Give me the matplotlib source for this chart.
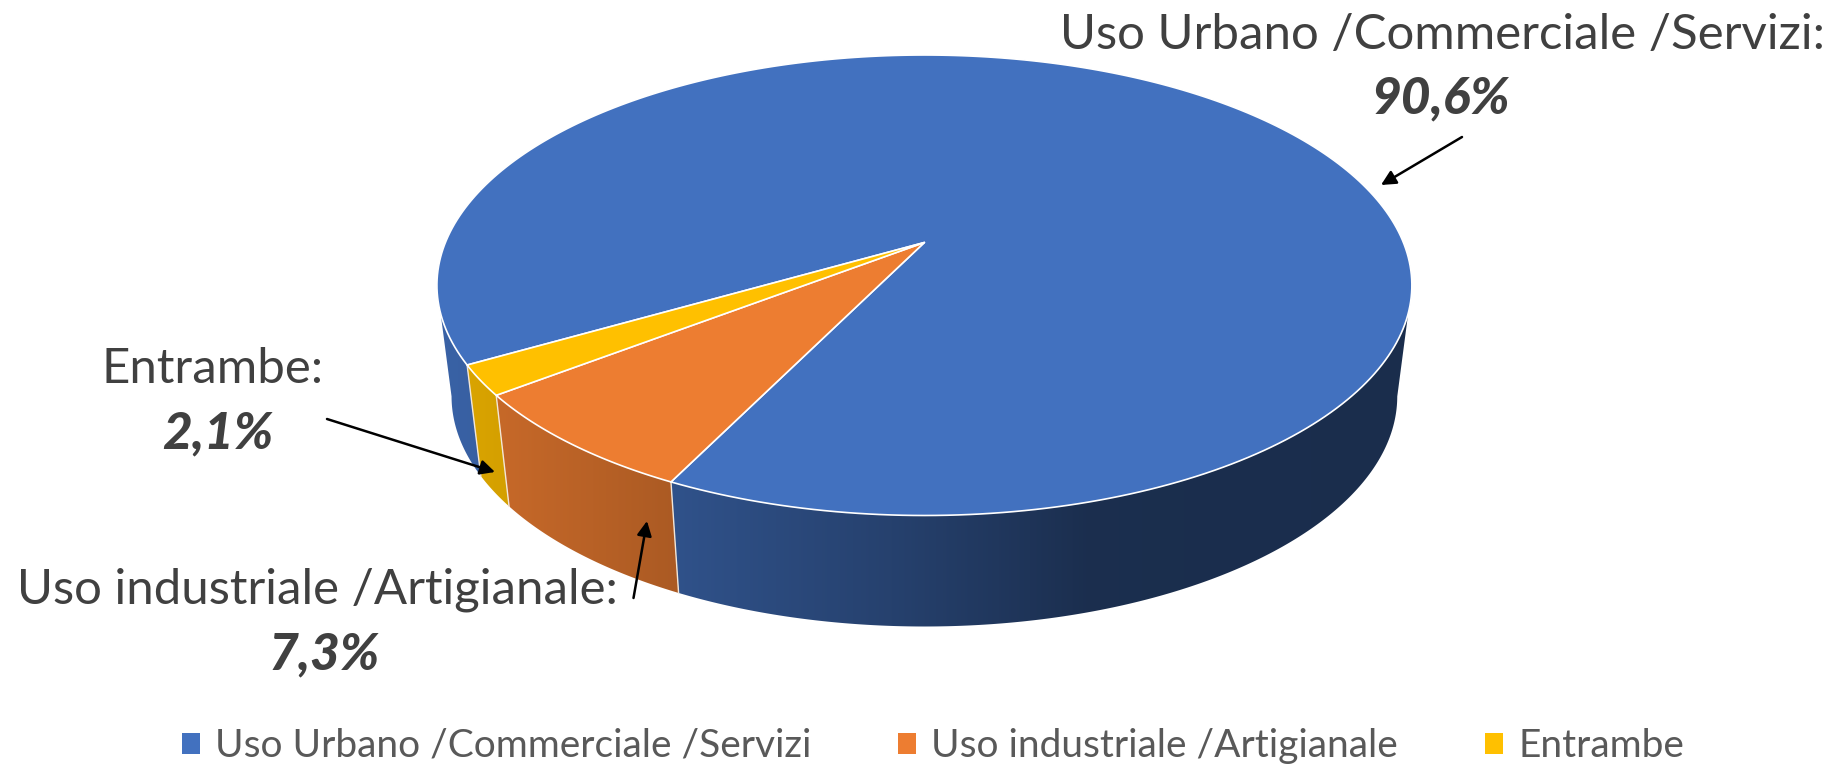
import numpy as np
import matplotlib
matplotlib.use("Agg")
import matplotlib.pyplot as plt
from matplotlib.patches import Patch, Polygon

plt.rcParams['font.family'] = ['Lato', 'DejaVu Sans']

# data
labels = ["Uso Urbano /Commerciale /Servizi", "Uso industriale /Artigianale", "Entrambe"]
values = [90.6, 7.3, 2.1]
value_labels = ["90,6%", "7,3%", "2,1%"]
colors = ["#4271BF", "#ED7D31", "#FFC000"]

# perspective of the disc, in pixels
START_ANGLE = 60.0
APEX_X, APEX_Y = 924.4, 242.5
RX, RY = 479.0, 222.3
PERSP = -0.1857
DEPTH = 111.0
BOTTOM_SCALE = 0.97

# shading of the side wall against x
SHADE_X = [437, 510, 680, 900, 1090, 1412]
SHADE_F = [0.87, 0.83, 0.72, 0.57, 0.41, 0.40]


def rim(theta):
    t = np.radians(theta)
    x, y = -np.sin(t), np.cos(t)
    w = 1 + PERSP * y
    return APEX_X + RX * x / w, APEX_Y + RY * y / w


def rim_bottom(theta):
    x, y = rim(theta)
    return APEX_X + (x - APEX_X) * BOTTOM_SCALE, y + DEPTH


fig = plt.figure(figsize=(18.37, 7.69), dpi=100)
ax = fig.add_axes([0, 0, 1, 1])

# angles of the slices
spans = np.array(values) / sum(values) * 360
starts = START_ANGLE + np.concatenate([[0], np.cumsum(spans)[:-1]])
ends = starts + spans

# side wall: a horizontal gradient clipped to the part of each slice that faces the viewer
grad_x = np.arange(0, 1837)
shade = np.interp(grad_x + 0.5, SHADE_X, SHADE_F)
for a0, a1, col in zip(starts, ends, colors):
    base = np.array(matplotlib.colors.to_rgb(col))
    th = np.linspace(a0, a1, 1440)
    front = np.gradient(rim(th)[0]) < 0
    for run in np.split(th, np.flatnonzero(np.diff(front)) + 1):
        if np.gradient(rim(run)[0]).mean() >= 0:
            continue
        x0, y0 = rim(run)
        x1, y1 = rim_bottom(run[::-1])
        wall = Polygon(np.c_[np.r_[x0, x1], np.r_[y0, y1]], closed=True, transform=ax.transData,
                       facecolor="none", edgecolor="none")
        ax.add_patch(wall)
        img = ax.imshow(shade[None, :, None] * base[None, None, :], extent=(0, 1837, 769, 0),
                        aspect="auto", interpolation="bilinear", zorder=1)
        img.set_clip_path(wall)

ax.set_xlim(0, 1837)
ax.set_ylim(769, 0)
ax.axis("off")

# seams between the slices on the wall
for a in ends:
    x0, y0 = rim(a)
    x1, y1 = rim_bottom(a)
    ax.plot([x0, x1], [y0, y1], color="#f2e6d8", lw=1.0, zorder=2)

# top face
for a0, a1, col in zip(starts, ends, colors):
    xs, ys = rim(np.linspace(a0, a1, 300))
    ax.fill(np.r_[APEX_X, xs], np.r_[APEX_Y, ys], facecolor=col, edgecolor="white", lw=1.2,
            joinstyle="round", zorder=3)

# labels
TXT = "#404040"
LABEL_SIZE = 35.4
VALUE_SIZE = 37
ax.text(1442, 35, labels[0] + ":", color=TXT, fontsize=LABEL_SIZE, ha="center", va="center", zorder=5)
ax.text(1441, 99, value_labels[0], color=TXT, fontsize=VALUE_SIZE, style="italic", weight="black",
        ha="center", va="center", zorder=5)
ax.text(213, 369, labels[2] + ":", color=TXT, fontsize=LABEL_SIZE, ha="center", va="center", zorder=5)
ax.text(218, 434, value_labels[2], color=TXT, fontsize=VALUE_SIZE, style="italic", weight="black",
        ha="center", va="center", zorder=5)
ax.text(317, 590, labels[1] + ":", color=TXT, fontsize=LABEL_SIZE, ha="center", va="center", zorder=5)
ax.text(324, 655, value_labels[1], color=TXT, fontsize=VALUE_SIZE, style="italic", weight="black",
        ha="center", va="center", zorder=5)

# arrows
arrows = [((1462, 137), (1381, 185)), ((327, 419), (495, 472)), ((633.5, 598), (647, 521))]
for start, tip in arrows:
    ax.annotate("", xy=tip, xytext=start, zorder=6,
                arrowprops=dict(arrowstyle="-|>", color="black", lw=1.8, mutation_scale=22,
                                shrinkA=0, shrinkB=0))

# legend
handles = [Patch(facecolor=c, edgecolor="none") for c in colors]
leg = ax.legend(handles, labels, ncol=3, loc="center", bbox_to_anchor=(933 / 1837, 1 - 746 / 769),
                frameon=False, fontsize=28, labelcolor="#595959", handlelength=0.46, handleheight=0.46,
                handletextpad=0.39, columnspacing=2.24, borderpad=0, borderaxespad=0)

fig.savefig("out.png", dpi=100, facecolor="white")
